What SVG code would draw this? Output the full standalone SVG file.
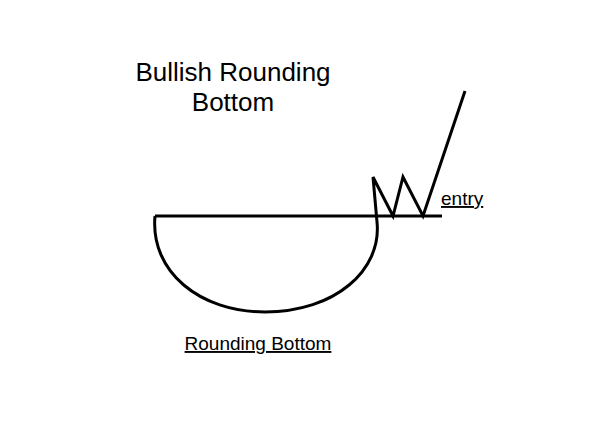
<svg xmlns="http://www.w3.org/2000/svg" width="601" height="438" viewBox="0 0 601 438">
<style>
.l{fill:none;stroke:#000;stroke-width:3;stroke-linejoin:miter}
.t{font-family:"Liberation Sans",Arial,sans-serif;fill:#000}
</style>
<rect width="601" height="438" fill="#fff"/>
<g id="title"><text class="t" x="233" y="81" font-size="26" text-anchor="middle">Bullish Rounding</text><text class="t" x="233" y="111" font-size="26" text-anchor="middle">Bottom</text></g>
<g id="connectors">
<line class="l" x1="155" y1="216" x2="442" y2="216"/>
<path class="l" d="M155,216 C150,272 200,312 265,312 C335,312 382,270 377,222 L373,177 L393,216 L403,177 L423,216 L465,91"/>
</g>
<g id="entry"><text class="t" x="441" y="205" font-size="19" text-decoration="underline">entry</text></g>
<g id="label"><text class="t" x="258" y="350" font-size="19" text-anchor="middle" text-decoration="underline">Rounding Bottom</text></g>
</svg>
